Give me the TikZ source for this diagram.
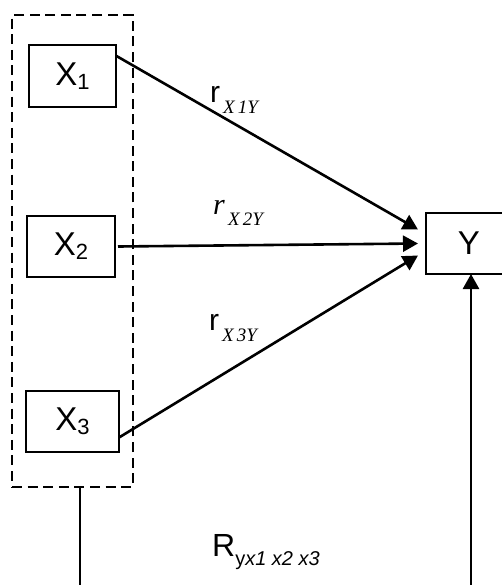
\documentclass[tikz,border=0pt]{standalone}
\usepackage{fontspec}
\setmainfont{Liberation Sans}
\newfontfamily\subserif{Liberation Serif}
\usetikzlibrary{arrows.meta}
\tikzset{varbox/.style={shape=rectangle, draw, line width=1.3pt, inner sep=0pt, outer sep=0pt, font=\fontsize{16.5}{19}\selectfont},
groupbox/.style={shape=rectangle, draw, dash pattern=on 5pt off 2.8pt, line width=1.2pt, inner sep=0pt, outer sep=0pt},
corrarrow/.style={line width=1.3pt, -{Triangle[length=7.5pt,width=8pt]}}}
\newcommand\lowsub[1]{\raisebox{-2pt}{\fontsize{11}{13}\selectfont #1}}
\newcommand\corrlab[2]{{\fontsize{15}{17}\selectfont #1}\raisebox{-5.5pt}{\subserif\itshape\fontsize{9.5}{11}\selectfont\,#2}}
\begin{document}
\begin{tikzpicture}[x=0.5pt,y=-0.5pt]
\useasboundingbox (0,0) rectangle (502,585);
\clip (0,0) rectangle (502,585);
\node[groupbox, minimum width=60.5pt, minimum height=236pt] (grp) at (72.5,251) {};
\node[varbox, minimum width=43.5pt, minimum height=31pt] (x1) at (72.5,76) {X\lowsub{1}};
\node[varbox, minimum width=44pt, minimum height=30.5pt] (x2) at (71,246.5) {X\lowsub{2}};
\node[varbox, minimum width=46.5pt, minimum height=30.5pt] (x3) at (72.5,421.5) {X\lowsub{3}};
\node[varbox, minimum width=43pt, minimum height=30.5pt] (yv) at (469,243.5) {Y};
\draw[corrarrow] (x1.25) -- ([xshift=-4pt,yshift=7pt]yv.west);
\draw[corrarrow] ([xshift=1.5pt]x2.east) -- ([xshift=-4pt]yv.west);
\draw[corrarrow] (x3.-19) -- ([xshift=-4pt,yshift=-6pt]yv.west);
\draw[corrarrow] ([xshift=3.75pt]grp.south) -- ++(0,150) -| ([xshift=1pt]yv.south);
\node (r1) at (234,100) {\corrlab{r}{X\,1Y}};
\node (r2) at (238,213) {\corrlab{\subserif\itshape r}{X\,2Y}};
\node (r3) at (233,328) {\corrlab{r}{X\,3Y}};
\node (rmult) at (266,552) {{\fontsize{16}{18}\selectfont R}\raisebox{-4.5pt}{\fontsize{10}{12}\selectfont y\itshape x1 x2 x3}};
\end{tikzpicture}
\end{document}
